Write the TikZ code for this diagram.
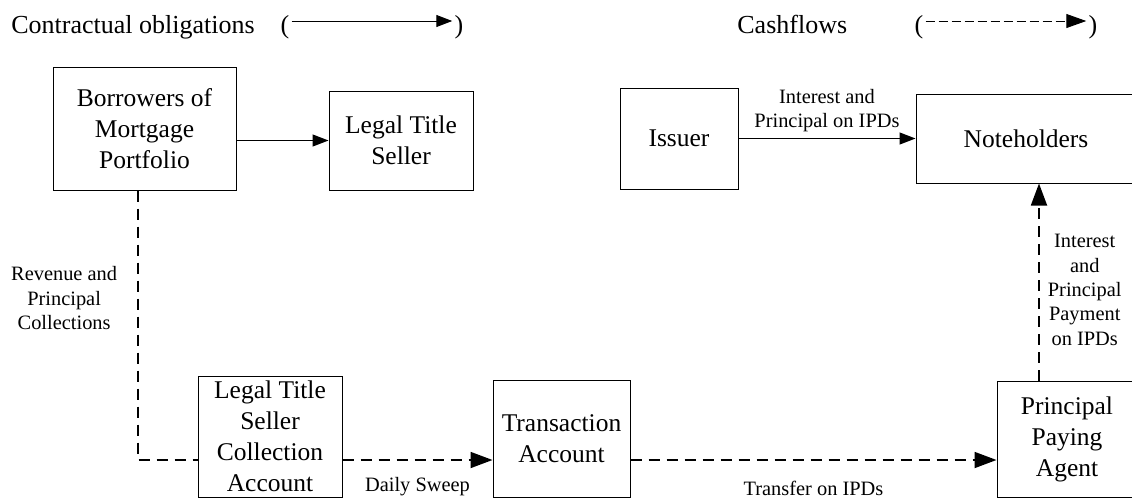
\documentclass[tikz,border=0pt]{standalone}
\usepackage{fontspec}
\setmainfont{Liberation Serif}
\usetikzlibrary{arrows.meta}

\newcommand{\boxfont}{\fontsize{12.75}{15.5}\selectfont}
\newcommand{\lblfont}{\fontsize{10.2}{12.2}\selectfont}
\newcommand{\keyfont}{\fontsize{13}{15}\selectfont}

\tikzset{
  box/.style={draw, line width=0.5pt, align=center, inner sep=0pt, font=\boxfont},
  lbl/.style={align=center, inner sep=0pt, font=\lblfont},
  key/.style={inner sep=1pt, font=\keyfont},
  oblig/.style={-{Triangle[length=8pt,width=6pt]}, line width=0.6pt},
  cashline/.style={line width=0.9pt, dash pattern=on 5.5pt off 3.5pt},
  cash/.style={cashline, -{Triangle[length=11pt,width=8pt]}},
}

\begin{document}
\begin{tikzpicture}[x=0.5pt, y=-0.5pt]
  \useasboundingbox (0,0) rectangle (1132,499);

  % legend
  \coordinate (keyrow) at (0,21);
  \node[key, anchor=base west] (kobl) at (9,33) {Contractual obligations};
  \node[key, anchor=base] (kob1) at (285,33) {(};
  \node[key, anchor=base] (kob2) at (459,33) {)};
  \node[key, anchor=base west] (kcash) at (735,33) {Cashflows};
  \node[key, anchor=base] (kca1) at (919,33) {(};
  \node[key, anchor=base] (kca2) at (1093,33) {)};

  \draw[oblig, line width=0.5pt] (kob1.east |- keyrow) -- (kob2.west |- keyrow);
  \draw[-{Triangle[length=10pt,width=7pt]}, line width=0.5pt, dash pattern=on 4.5pt off 2pt]
    (kca1.east |- keyrow) -- (kca2.west |- keyrow);

  % the parties
  \node[box, minimum width=91.5pt, minimum height=61.5pt] (borrow) at (144.5,128.5) {Borrowers of\\Mortgage\\Portfolio};
  \node[box, minimum width=72pt, minimum height=49.5pt] (lts) at (401,140.5) {Legal Title\\Seller};
  \node[box, minimum width=59pt, minimum height=50.5pt] (issuer) at (679,138.5) {Issuer};
  \node[box, minimum width=110pt, minimum height=44.5pt] (notes) at (1026,138.5) {Noteholders};

  % the accounts
  \node[box, minimum width=72pt, minimum height=60.5pt] (collect) at (270,436.5) {Legal Title\\Seller\\Collection\\Account};
  \node[box, minimum width=68.5pt, minimum height=58.5pt] (trans) at (561.5,438.5) {Transaction\\Account};
  \node[box, minimum width=70pt, minimum height=58pt] (ppa) at (1067,439) {Principal\\Paying\\Agent};

  % helper coordinates for the flow lines
  \coordinate (drop) at (138,0);
  \coordinate (row) at (0,460);
  \coordinate (lift) at (1039,0);

  % contractual obligations
  \draw[oblig] (borrow.east |- lts) -- (lts.west);
  \draw[oblig] (issuer.east) -- (notes.west)
    node[lbl, midway, above=3pt] {Interest and\\Principal on IPDs};

  % cashflows
  \draw[cashline] (borrow.south -| drop) |- (collect.west |- row)
    node[lbl, pos=0.2, left=10pt] {Revenue and\\Principal\\Collections};
  \draw[cash] (collect.east |- row) -- (trans.west |- row)
    node[lbl, midway, below=8pt] {Daily Sweep};
  \draw[cash] (trans.east |- row) -- (ppa.west |- row)
    node[lbl, midway, below=10pt] {Transfer on IPDs};
  \draw[cash] (ppa.north -| lift) -- (notes.south -| lift)
    node[lbl, midway, right=4pt, yshift=-4pt] {Interest\\and\\Principal\\Payment\\on IPDs};
\end{tikzpicture}
\end{document}
